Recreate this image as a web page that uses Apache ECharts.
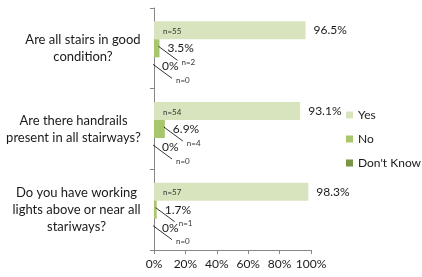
<!DOCTYPE html>
<html>
<head>
<meta charset="utf-8">
<script src="https://cdn.jsdelivr.net/npm/echarts@6/dist/echarts.min.js"></script>
<style>
  html, body { margin: 0; padding: 0; background: #fff; }
  #chart { width: 422px; height: 277px; }
</style>
</head>
<body>
<div id="chart"></div>
<script>
// survey questions (top to bottom)
const questions = [
  'Are all stairs in good\ncondition?',
  'Are there handrails\npresent in all stairways?',
  'Do you have working\nlights above or near all\nstariways?'
]
const seriesNames = ['Yes', 'No', "Don't Know"]
const yesPct = [96.5, 93.1, 98.3]
const noPct = [3.5, 6.9, 1.7]
const dkPct = [0, 0, 0]
const yesN = [55, 54, 57]
const noN = [2, 4, 1]
const dkN = [0, 0, 0]
const xTicks = [0, 20, 40, 60, 80, 100]

const colors = ['#d7e4bd', '#a8c66e', '#7b9446']
const font = 'Lato'
const barW = 18

// width of each question block so its lines can be centred inside it
const qFont = 13
const ctx = document.createElement('canvas').getContext('2d')
ctx.font = qFont + 'px ' + font
const qRich = {}
questions.forEach((q, i) => {
  const w = Math.max(...q.split('\n').map(s => ctx.measureText(s).width))
  qRich['q' + i] = {
    width: Math.ceil(w),
    align: 'center',
    lineHeight: 17,
    fontFamily: font,
    fontSize: qFont,
    color: '#1a1a1a'
  }
})

const chart = echarts.init(document.getElementById('chart'), null, { renderer: 'canvas' })

const pctLabel = {
  show: true,
  position: 'right',
  distance: 8,
  fontFamily: font,
  fontSize: 12,
  color: '#1a1a1a',
  formatter: p => p.value + '%'
}

function barSeries(name, data, color) {
  return {
    name: name,
    type: 'bar',
    barWidth: barW,
    barGap: '0%',
    data: data,
    itemStyle: { color: color },
    label: pctLabel,
    animation: false
  }
}

// n= counts and leader lines
const rows = questions.map((q, i) => [i, yesPct[i], noPct[i], dkPct[i], yesN[i], noN[i], dkN[i]])

const smallText = (x, y, text) => ({
  type: 'text',
  x: x,
  y: y,
  style: {
    text: text,
    fill: '#333',
    font: '8px ' + font,
    align: 'left',
    verticalAlign: 'middle'
  }
})

chart.setOption({
  animation: false,
  grid: { left: 154, right: 111, top: 8, bottom: 27 },
  legend: {
    data: seriesNames,
    orient: 'vertical',
    left: 346,
    top: 109,
    padding: 0,
    itemWidth: 7,
    itemHeight: 7,
    itemGap: 12,
    icon: 'rect',
    textStyle: { fontFamily: font, fontSize: 12, color: '#1a1a1a' }
  },
  xAxis: {
    type: 'value',
    min: xTicks[0],
    max: xTicks[xTicks.length - 1],
    interval: xTicks[1] - xTicks[0],
    axisLine: { show: true, lineStyle: { color: '#868686' } },
    axisTick: { show: true, length: 4, lineStyle: { color: '#868686' } },
    splitLine: { show: false },
    axisLabel: {
      margin: 8,
      fontFamily: font,
      fontSize: 12,
      color: '#1a1a1a',
      formatter: '{value}%'
    }
  },
  yAxis: {
    type: 'category',
    inverse: true,
    data: questions,
    axisLine: { show: true, lineStyle: { color: '#868686' } },
    axisTick: { show: true, length: 4, lineStyle: { color: '#868686' } },
    axisLabel: {
      margin: 13,
      align: 'right',
      formatter: (v, i) => '{q' + i + '|' + v + '}',
      rich: qRich
    }
  },
  series: [
    barSeries(seriesNames[0], yesPct, colors[0]),
    barSeries(seriesNames[1], noPct, colors[1]),
    barSeries(seriesNames[2], dkPct, colors[2]),
    {
      type: 'custom',
      silent: true,
      clip: false,
      z: 10,
      encode: { y: 0, x: 1 },
      data: rows,
      renderItem(params, api) {
        const i = api.value(0)
        const base = api.coord([0, i])
        const cy = base[1]
        const children = [smallText(base[0] + 9, cy - barW + 1, 'n=' + api.value(4))]
        ;[[2, 5, 0], [3, 6, 1]].forEach(([vi, ni, k]) => {
          const xe = api.coord([api.value(vi), i])[0]
          const yc = cy + k * barW
          const x1 = xe - 1, y1 = yc - 2, x2 = xe + 18, y2 = yc + 12
          children.push({
            type: 'line',
            shape: { x1: x1, y1: y1, x2: x2, y2: y2 },
            style: { stroke: '#000', lineWidth: 0.8 }
          })
          children.push(smallText(x2 + 4, y2 + 2, 'n=' + api.value(ni)))
        })
        return { type: 'group', children: children }
      }
    }
  ]
})
</script>
</body>
</html>
